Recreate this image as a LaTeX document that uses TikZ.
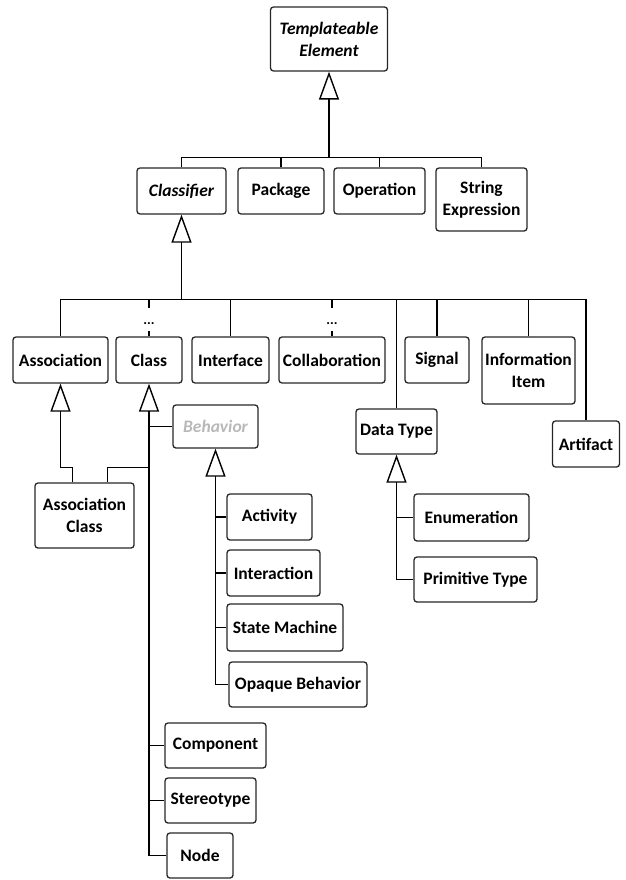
\documentclass[tikz,border=0pt]{standalone}
\usepackage{fontspec}
\setmainfont{Carlito}
\usetikzlibrary{arrows.meta,calc}

\begin{document}
\begin{tikzpicture}[x=1pt,y=-1pt,
  box/.style={draw=black!85, line width=1.3pt, rounded corners=3pt, inner sep=0pt,
    align=center, font=\fontsize{17.5}{22}\selectfont\bfseries},
  link/.style={draw=black, line width=1.4pt},
  gen/.style={link, -{Triangle[open, fill=white, length=28pt, width=20pt, line width=1.4pt]}},
  dots/.style={inner sep=0pt, font=\fontsize{14}{14}\selectfont\bfseries},
]
\useasboundingbox (0,0) rectangle (625,880);

% top level
\node[box, minimum width=117pt, minimum height=64pt] (te) at (329,39) {\itshape Templateable\\\itshape Element};

% first generation
\node[box, minimum width=89pt, minimum height=46pt] (cf) at (181.5,191) {\itshape Classifier};
\node[box, minimum width=86pt, minimum height=46pt] (pk) at (281,191) {Package};
\node[box, minimum width=91pt, minimum height=46pt] (op) at (379.5,191) {Operation};
\node[box, minimum width=91pt, minimum height=63pt] (se) at (481.5,199.5) {String\\Expression};

% classifiers
\node[box, minimum width=95pt, minimum height=46pt] (as) at (60.5,360) {Association};
\node[box, minimum width=66pt, minimum height=46pt] (cl) at (149,360) {Class};
\node[box, minimum width=77pt, minimum height=46pt] (if) at (230.5,360) {Interface};
\node[box, minimum width=106pt, minimum height=46pt] (co) at (332,360) {Collaboration};
\node[box, minimum width=64pt, minimum height=46pt] (sg) at (437,360) {Signal};
\node[box, minimum width=93pt, minimum height=67pt] (ii) at (528.5,370.5) {Information\\Item};
\node[box, minimum width=81pt, minimum height=45pt] (dt) at (396.5,431.5) {Data Type};
\node[box, minimum width=67pt, minimum height=46pt] (ar) at (586,444) {Artifact};

% specialisations
\node[box, minimum width=99pt, minimum height=65pt] (ac) at (84.5,515.5) {Association\\Class};
\node[box, minimum width=85pt, minimum height=43pt, text=black!28] (bh) at (215.5,426.5) {\itshape Behavior};
\node[box, minimum width=85pt, minimum height=46pt] (act) at (269.5,517) {Activity};
\node[box, minimum width=93pt, minimum height=46pt] (itr) at (273.5,573) {Interaction};
\node[box, minimum width=116pt, minimum height=47pt] (sm) at (285,627.5) {State Machine};
\node[box, minimum width=138pt, minimum height=45pt] (ob) at (298,684.5) {Opaque Behavior};
\node[box, minimum width=101pt, minimum height=45pt] (cm) at (215.5,745.5) {Component};
\node[box, minimum width=91pt, minimum height=45pt] (st) at (210.5,800.5) {Stereotype};
\node[box, minimum width=66pt, minimum height=45pt] (nd) at (200,855.5) {Node};
\node[box, minimum width=115pt, minimum height=47pt] (en) at (471.5,517.5) {Enumeration};
\node[box, minimum width=123pt, minimum height=45pt] (pt) at (475.5,579.5) {Primitive Type};

% tree under Templateable Element
\coordinate (b1) at ($(te.south)+(0,86)$);
\draw[gen] (b1) -- (te.south);
\draw[link] (cf.north) |- (b1) -| (se.north);
\draw[link] (pk.north) -- (pk.north |- b1);
\draw[link] (op.north) -- (op.north |- b1);

% tree under Classifier
\coordinate (b2) at ($(cf.south)+(0,85)$);
\draw[gen] (b2) -- (cf.south);
\draw[link] (as.north) |- (b2) -| (ar.north);
\draw[link] (if.north) -- (if.north |- b2);
\draw[link] (sg.north) -- (sg.north |- b2);
\draw[link] (ii.north) -- (ii.north |- b2);
\draw[link] (dt.north) -- (dt.north |- b2);
% elided links
\draw[link] (cl.north |- b2) -- ++(0,8);
\draw[link] (cl.north) -- ++(0,-5);
\node[dots] (cldots) at ($(cl.north)+(0,-13)$) {...};
\draw[link] (co.north |- b2) -- ++(0,8);
\draw[link] (co.north) -- ++(0,-5);
\node[dots] (codots) at ($(co.north)+(0,-13)$) {...};

% Association Class
\draw[gen] ($(ac.north west)+(38,0)$) |- ($(as.south)+(0,84)$) -- (as.south);
\draw[link] ($(ac.north west)+(73,0)$) |- ($(cl.south)+(0,84)$);

% Class specialisations
\draw[gen] (nd.west) -| (cl.south);
\draw[link] (bh.west) -- (bh.west -| cl.south);
\draw[link] (cm.west) -- (cm.west -| cl.south);
\draw[link] (st.west) -- (st.west -| cl.south);

% Behavior specialisations
\draw[gen] (ob.west) -| (bh.south);
\draw[link] (act.west) -- (act.west -| bh.south);
\draw[link] (itr.west) -- (itr.west -| bh.south);
\draw[link] (sm.west) -- (sm.west -| bh.south);

% Data Type specialisations
\draw[gen] (pt.west) -| (dt.south);
\draw[link] (en.west) -- (en.west -| dt.south);
\end{tikzpicture}
\end{document}
